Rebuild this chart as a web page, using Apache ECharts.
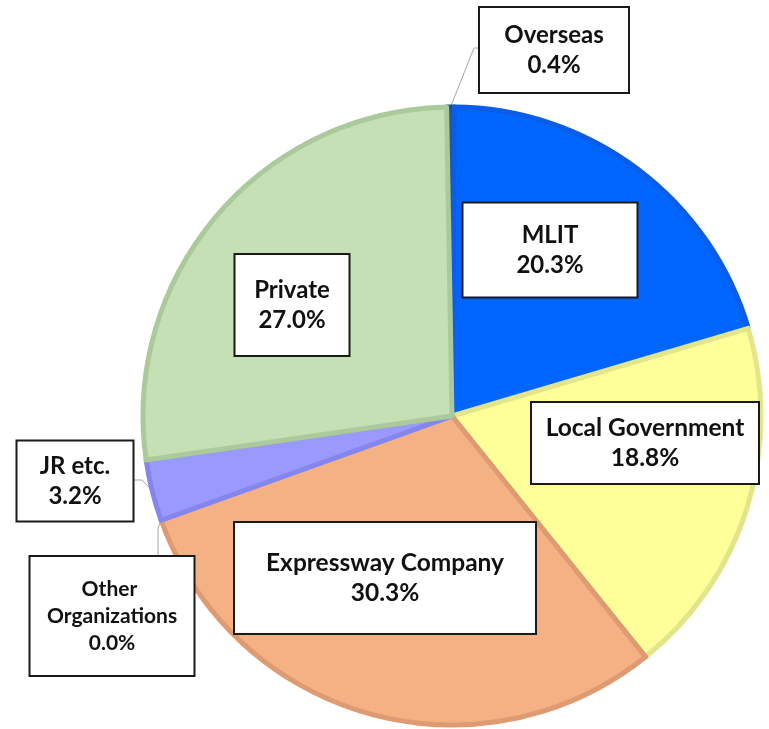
<!DOCTYPE html>
<html><head><meta charset="utf-8">
<script src="https://cdn.jsdelivr.net/npm/echarts@6/dist/echarts.min.js"></script>
<style>html,body{margin:0;padding:0;background:#fff}#c{width:769px;height:729px}</style>
</head><body><div id="c"></div>
<script>
// ---- data ----
const categories = ['Overseas', 'MLIT', 'Local Government', 'Expressway Company', 'Other Organizations', 'JR etc.', 'Private'];
const shares = [0.4, 20.3, 18.8, 30.3, 0.0, 3.2, 27.0];

// ---- styles ----
const fillColors = ['#245B8F', '#0066FF', '#FFFF99', '#F4B183', '#A5A5A5', '#9999FF', '#C5E0B4'];
const edgeColors = ['#1F5080', '#0B5CE6', '#E3E58A', '#DE9A70', '#A5A5A5', '#8585F0', '#ABCA9C'];

// label box layout (centre, outer size, font), leader bend points
const labelBoxes = [
  { cx: 554, cy: 50,  w: 150, h: 84,  fs: 24, lh: 30, lines: 2, lead: [[474, 48], [479, 48]] },
  { cx: 550, cy: 250, w: 175, h: 93,  fs: 24, lh: 30, lines: 2 },
  { cx: 645, cy: 443, w: 228, h: 80,  fs: 24.5, lh: 30, lines: 2 },
  { cx: 385, cy: 578, w: 302, h: 110, fs: 24.5, lh: 30, lines: 2 },
  { cx: 112, cy: 616, w: 165, h: 118, fs: 21, lh: 27, lines: 3, lead: [[158, 528], [158, 557]] },
  { cx: 75,  cy: 481, w: 117, h: 79,  fs: 24, lh: 30, lines: 2, lead: [[142, 480], [134, 480]] },
  { cx: 292, cy: 305, w: 115, h: 100, fs: 24, lh: 30, lines: 2 }
];

const chart = echarts.init(document.getElementById('c'), null, { renderer: 'canvas' });

const data = categories.map((name, i) => {
  const b = labelBoxes[i];
  const pv = (b.h - b.lines * b.lh) / 2;
  return {
    name: name,
    value: shares[i],
    itemStyle: { color: fillColors[i], borderColor: edgeColors[i], borderWidth: 5 },
    label: {
      fontSize: b.fs,
      lineHeight: b.lh,
      width: b.w - 2,
      overflow: 'break',
      padding: [pv, 0, pv, 0]
    },
    labelLine: { show: !!b.lead }
  };
});

chart.setOption({
  animation: false,
  backgroundColor: '#ffffff',
  series: [{
    type: 'pie',
    center: [452, 416],
    radius: 309,
    startAngle: 91,
    clockwise: true,
    avoidLabelOverlap: false,
    data: data,
    label: {
      show: true,
      position: 'outside',
      formatter: p => p.name + '\n' + p.value.toFixed(1) + '%',
      fontFamily: 'Lato',
      fontWeight: 'bold',
      color: '#111111',
      align: 'center',
      backgroundColor: '#ffffff',
      borderColor: '#1a1a1a',
      borderWidth: 2
    },
    labelLine: {
      lineStyle: { color: '#A6A6A6', width: 1 }
    },
    labelLayout: function (p) {
      const b = labelBoxes[p.dataIndex];
      const res = { x: b.cx, y: b.cy, align: 'center', verticalAlign: 'middle' };
      if (b.lead && p.labelLinePoints) {
        res.labelLinePoints = [p.labelLinePoints[0], b.lead[0], b.lead[1]];
      }
      return res;
    }
  }]
});
</script>
</body></html>
